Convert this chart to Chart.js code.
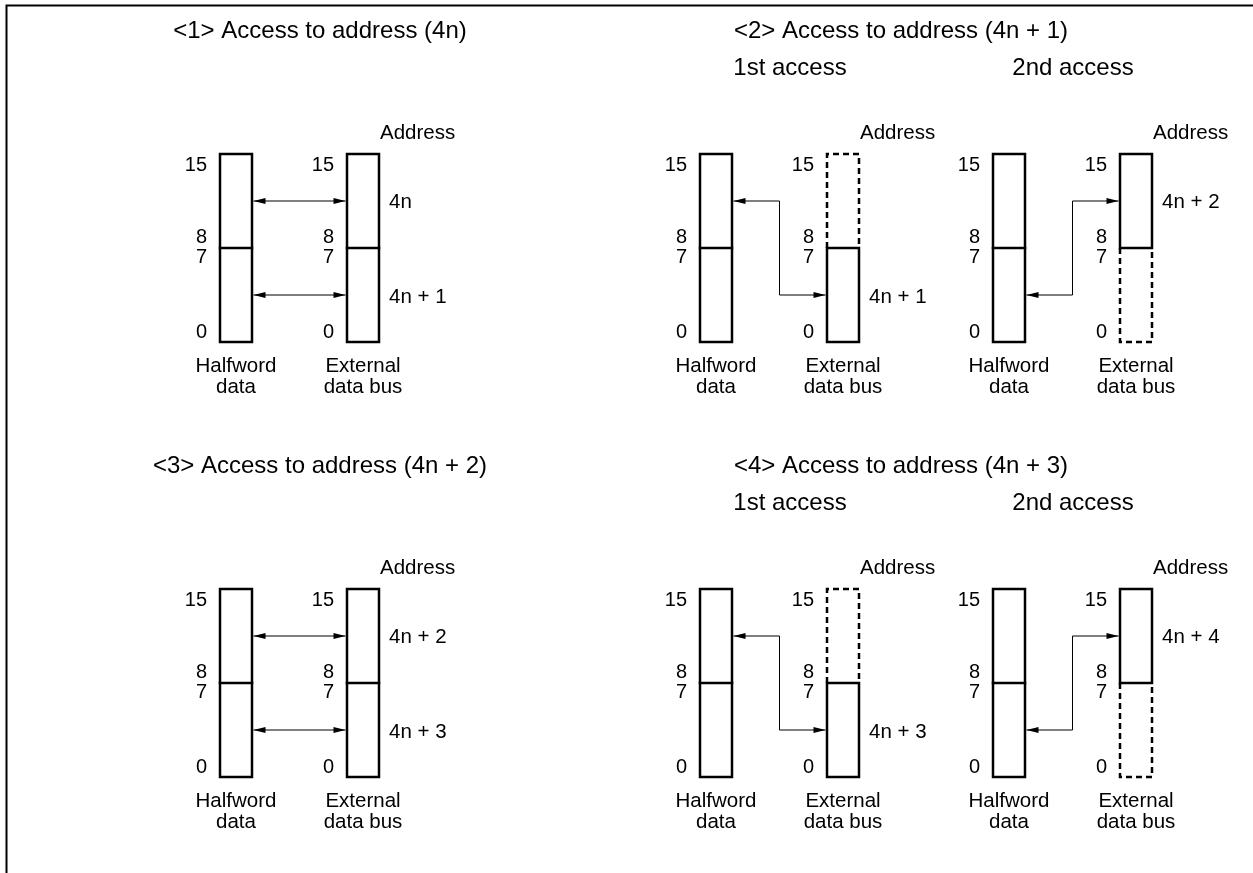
<!DOCTYPE html>
<html>
<head>
<meta charset="utf-8">
<script src="https://cdn.jsdelivr.net/npm/chart.js@4"></script>
<style>
  html, body { margin: 0; padding: 0; background: #fff; }
  canvas { display: block; }
</style>
</head>
<body>
<canvas id="busChart" width="1253" height="873"></canvas>
<script>
// Data
const panelTitles = [
	'<1> Access to address (4n)',
	'<2> Access to address (4n + 1)',
	'<3> Access to address (4n + 2)',
	'<4> Access to address (4n + 3)'
];
const accessNames = ['1st access', '2nd access'];
const bitNumbers = ['15', '8', '7', '0'];
const registerNames = [['Halfword', 'data'], ['External', 'data bus']];
const addressHeader = 'Address';
// aligned accesses: [upper byte, lower byte] of the bus, one row per panel
const alignedAddresses = [['4n', '4n + 1'], ['4n + 2', '4n + 3']];
// misaligned accesses: [1st access, 2nd access], one row per panel
const splitAddresses = [['4n + 1', '4n + 2'], ['4n + 3', '4n + 4']];
// bus byte lane used by each access of a misaligned transfer
const splitLanes = ['low', 'high'];

// Layout (page units = pixels)
const W = 1253, H = 873;
const ROW_TOP = [154, 589];
const ALIGNED_LEFT = 220;
const SPLIT_LEFT = [700, 993];
const BOX_W = 32, BOX_H = 188, BUS_GAP = 127;
const TITLE_X = [320, 901];
const ACCESS_X = [790, 1073];
const TITLE_FONT = '24px "Liberation Sans", Arial, sans-serif';
const LABEL_FONT = '20.5px "Liberation Sans", Arial, sans-serif';
const BIT_FONT = '20px "Liberation Sans", Arial, sans-serif';

const datasets = [];
function addPath(points, opts) {
	datasets.push(Object.assign({
		data: points,
		borderColor: '#000',
		borderWidth: 2.5,
		pointRadius: 0,
		fill: false,
		tension: 0,
		clip: false,
		borderJoinStyle: 'miter',
		borderCapStyle: 'square'
	}, opts));
}
const P = (x, y) => ({ x, y });
function rect(x0, y0, x1, y1) {
	return [P(x0, y0), P(x1, y0), P(x1, y1), P(x0, y1), P(x0, y0)];
}

// one 16-bit register; each half is either real ('solid') or unused ('dashed')
function register(left, top, high, low) {
	const right = left + BOX_W, mid = top + BOX_H / 2, bottom = top + BOX_H;
	if (high === 'solid' && low === 'solid') {
		addPath(rect(left, top, right, bottom));
		addPath([P(left, mid), P(right, mid)]);
	} else if (high === 'dashed') {
		addPath(rect(left, mid, right, bottom));
		addPath([P(left, mid), P(left, top), P(right, top), P(right, mid)], { borderDash: [6, 4], borderCapStyle: 'butt' });
	} else {
		addPath(rect(left, top, right, mid));
		addPath([P(left, mid), P(left, bottom), P(right, bottom), P(right, mid)], { borderDash: [6, 4], borderCapStyle: 'butt' });
	}
}
function arrow(points) {
	addPath(points, { borderWidth: 1, borderCapStyle: 'butt', arrowHeads: true });
}

// Frame
addPath([P(6.5, H + 2), P(6.5, 5.5), P(W + 2, 5.5)], { borderWidth: 2 });

ROW_TOP.forEach((top, r) => {
	const yHigh = top + BOX_H / 4, yLow = top + BOX_H * 3 / 4;
	// aligned transfer
	const hw = ALIGNED_LEFT, bus = hw + BUS_GAP;
	register(hw, top, 'solid', 'solid');
	register(bus, top, 'solid', 'solid');
	arrow([P(hw + BOX_W + 1.5, yHigh), P(bus - 1.5, yHigh)]);
	arrow([P(hw + BOX_W + 1.5, yLow), P(bus - 1.5, yLow)]);
	// misaligned transfer, two accesses
	SPLIT_LEFT.forEach((sl, k) => {
		const sb = sl + BUS_GAP, cx = (sl + BOX_W + sb) / 2;
		register(sl, top, 'solid', 'solid');
		const lowLane = splitLanes[k] === 'low';
		register(sb, top, lowLane ? 'dashed' : 'solid', lowLane ? 'solid' : 'dashed');
		const yFrom = lowLane ? yHigh : yLow, yTo = lowLane ? yLow : yHigh;
		arrow([P(sl + BOX_W + 1.5, yFrom), P(cx, yFrom), P(cx, yTo), P(sb - 1.5, yTo)]);
	});
});

const arrowHeads = {
	id: 'arrowHeads',
	afterDatasetsDraw(chart) {
		const ctx = chart.ctx;
		chart.data.datasets.forEach((ds, i) => {
			if (!ds.arrowHeads) return;
			const pts = chart.getDatasetMeta(i).data;
			const head = (tip, from) => {
				const a = Math.atan2(tip.y - from.y, tip.x - from.x);
				const len = 12, hw = 3;
				ctx.beginPath();
				ctx.moveTo(tip.x, tip.y);
				ctx.lineTo(tip.x - len * Math.cos(a) + hw * Math.sin(a), tip.y - len * Math.sin(a) - hw * Math.cos(a));
				ctx.lineTo(tip.x - len * Math.cos(a) - hw * Math.sin(a), tip.y - len * Math.sin(a) + hw * Math.cos(a));
				ctx.closePath();
				ctx.fill();
			};
			ctx.save();
			ctx.fillStyle = '#000';
			head(pts[0], pts[1]);
			head(pts[pts.length - 1], pts[pts.length - 2]);
			ctx.restore();
		});
	}
};

const diagramText = {
	id: 'diagramText',
	afterDraw(chart) {
		const ctx = chart.ctx;
		const sx = v => chart.scales.x.getPixelForValue(v);
		const sy = v => chart.scales.y.getPixelForValue(v);
		const text = (s, x, y, font, align) => {
			ctx.font = font;
			ctx.textAlign = align || 'center';
			ctx.fillText(s, sx(x), sy(y));
		};
		const regLabels = (left, top, names) => {
			const offs = [11, 83, 103, 178];
			bitNumbers.forEach((b, i) => text(b, left - 13, top + offs[i], BIT_FONT, 'right'));
			text(names[0], left + BOX_W / 2, top + 212, LABEL_FONT);
			text(names[1], left + BOX_W / 2, top + 233, LABEL_FONT);
		};
		ctx.save();
		ctx.fillStyle = '#000';
		ctx.textBaseline = 'middle';
		ROW_TOP.forEach((top, r) => {
			const yHigh = top + 48, yLow = top + 143;
			text(panelTitles[r * 2], TITLE_X[0], top - 123, TITLE_FONT);
			text(panelTitles[r * 2 + 1], TITLE_X[1], top - 123, TITLE_FONT);
			const bus = ALIGNED_LEFT + BUS_GAP;
			regLabels(ALIGNED_LEFT, top, registerNames[0]);
			regLabels(bus, top, registerNames[1]);
			text(addressHeader, bus + BOX_W + 1, top - 21, LABEL_FONT, 'left');
			text(alignedAddresses[r][0], bus + BOX_W + 10, yHigh, LABEL_FONT, 'left');
			text(alignedAddresses[r][1], bus + BOX_W + 10, yLow, LABEL_FONT, 'left');
			SPLIT_LEFT.forEach((sl, k) => {
				const sb = sl + BUS_GAP;
				text(accessNames[k], ACCESS_X[k], top - 86, TITLE_FONT);
				regLabels(sl, top, registerNames[0]);
				regLabels(sb, top, registerNames[1]);
				text(addressHeader, sb + BOX_W + 1, top - 21, LABEL_FONT, 'left');
				text(splitAddresses[r][k], sb + BOX_W + 10, splitLanes[k] === 'low' ? yLow : yHigh, LABEL_FONT, 'left');
			});
		});
		ctx.restore();
	}
};

new Chart(document.getElementById('busChart'), {
	type: 'line',
	data: { datasets },
	options: {
		responsive: false,
		animation: false,
		devicePixelRatio: 1,
		layout: { padding: 0 },
		plugins: { legend: { display: false }, tooltip: { enabled: false } },
		scales: {
			x: { type: 'linear', min: 0, max: W, display: false },
			y: { type: 'linear', min: 0, max: H, reverse: true, display: false }
		}
	},
	plugins: [arrowHeads, diagramText]
});
</script>
</body>
</html>
